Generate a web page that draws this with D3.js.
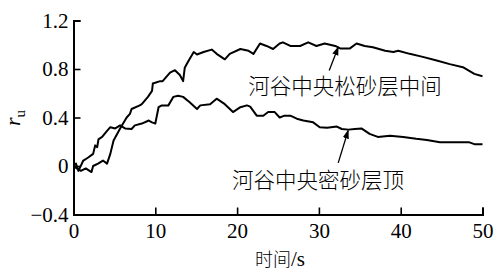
<!DOCTYPE html>
<html><head><meta charset="utf-8">
<script src="https://cdn.jsdelivr.net/npm/d3@7"></script>
<style>body{margin:0;background:#fff}svg{display:block}</style>
</head><body><svg id="c" width="497" height="272"></svg>
<script>
const xTicks = [0, 10, 20, 30, 40, 50];
const yTicks = [-0.4, 0, 0.4, 0.8, 1.2];
const yTickLabels = ["\u22120.4", "0", "0.4", "0.8", "1.2"];
const seriesNames = ["河谷中央松砂层中间", "河谷中央密砂层顶"];

const looseT = [0,0.4,0.9,1.5,2.2,2.4,3.0,3.6,4.1,4.5,4.9,5.7,6.5,6.9,7.1,8.1,8.35,9.1,9.6,9.7,10.6,10.9,11.8,12.4,13.0,13.4,13.6,14.0,14.7,15.1,15.9,16.9,17.5,18.5,19.1,20.4,21.4,22.0,22.8,23.6,24.4,25.2,25.6,26.5,27.7,28.7,29.7,30.7,32.0,32.6,33.8,34.6,35.6,36.6,38.1,39.1,39.7,41.1,42.7,44.4,46.0,47.6,49.0,50];
const looseV = [0,-0.02,-0.04,-0.02,-0.05,0,0.02,0.045,0.02,0.1,0.21,0.31,0.40,0.43,0.47,0.50,0.51,0.57,0.62,0.68,0.70,0.70,0.77,0.79,0.75,0.70,0.81,0.86,0.94,0.92,0.94,0.96,0.925,0.88,0.925,0.965,0.95,0.925,1.01,0.99,0.965,1.01,1.02,0.99,0.99,1.02,0.99,1.01,0.99,0.97,0.97,1.01,0.99,0.98,0.95,0.94,0.95,0.925,0.90,0.87,0.84,0.815,0.76,0.74];

const denseT = [0,0.3,0.6,1.2,1.8,2.4,2.65,2.9,3.05,3.5,4.1,4.5,5.1,5.7,6.3,7.1,7.5,8.35,9.2,9.6,10.0,10.4,10.8,11.6,12.2,12.8,13.4,14.2,15.1,15.5,16.7,17.5,18.5,19.5,20.4,21.2,21.6,22.4,23.2,23.8,24.6,25.2,25.8,26.5,27.3,28.1,29.3,30.1,31.0,32.2,32.8,33.6,34.4,35.2,36.2,37.2,38.7,40.3,41.9,43.2,44.8,48.4,49.0,50];
const denseV = [0,0.02,-0.04,0.045,0.07,0.10,0.17,0.155,0.22,0.24,0.29,0.32,0.31,0.335,0.31,0.305,0.335,0.35,0.375,0.36,0.35,0.485,0.50,0.50,0.57,0.58,0.57,0.525,0.47,0.50,0.51,0.555,0.51,0.445,0.485,0.50,0.49,0.415,0.415,0.445,0.445,0.40,0.415,0.415,0.39,0.375,0.36,0.32,0.315,0.325,0.305,0.30,0.305,0.31,0.265,0.24,0.25,0.24,0.225,0.215,0.195,0.195,0.18,0.18];

// annotation anchors in data units: [labelT, labelV, arrowFromT, arrowFromV, arrowToT, arrowToV]
const annotations = [
  [33.2, 0.672, 31.26, 0.787, 32.36, 0.98],
  [29.9, -0.103, 32.36, 0.026, 33.58, 0.293]
];

const svg = d3.select("#c");
const x = d3.scaleLinear().domain([0, 50]).range([73.5, 482.5]);
const y = d3.scaleLinear().domain([-0.4, 1.2]).range([214.5, 20.5]);

const serif = "Liberation Serif, Times New Roman, serif";
const cjk = "Noto Sans CJK SC, sans-serif";

const xAxis = svg.append("g").attr("transform", `translate(0,${y(-0.4)})`)
  .call(d3.axisBottom(x).tickValues(xTicks).tickSize(-7).tickPadding(9).tickFormat(d3.format("d")));
const yAxis = svg.append("g").attr("transform", `translate(${x(0)},0)`)
  .call(d3.axisLeft(y).tickValues(yTicks).tickSize(-7).tickPadding(5).tickFormat((d,i)=>yTickLabels[i]));
[xAxis, yAxis].forEach(g => {
  g.attr("font-family", serif).attr("font-size", 21);
  g.select(".domain").attr("stroke", "#000").attr("stroke-width", 2);
  g.selectAll(".tick line").attr("stroke", "#000").attr("stroke-width", 1.6);
  g.selectAll(".tick text").attr("fill", "#000").attr("font-family", serif).attr("font-size", 21);
});
yAxis.selectAll(".tick text").attr("x", -5);

const line = d3.line().x(d => x(d[0])).y(d => y(d[1]));
[[looseT, looseV], [denseT, denseV]].forEach(([t, v]) => {
  svg.append("path").datum(t.map((ti, i) => [ti, v[i]]))
    .attr("d", line).attr("fill", "none").attr("stroke", "#000")
    .attr("stroke-width", 2).attr("stroke-linejoin", "round");
});

svg.append("defs").append("marker").attr("id", "ah")
  .attr("viewBox", "0 0 10 10").attr("refX", 9).attr("refY", 5)
  .attr("markerWidth", 9).attr("markerHeight", 9).attr("markerUnits", "userSpaceOnUse")
  .attr("orient", "auto")
  .append("path").attr("d", "M0,1.5 L10,5 L0,8.5 Z").attr("fill", "#000");

annotations.forEach((a, i) => {
  svg.append("line").attr("x1", x(a[2])).attr("y1", y(a[3]))
    .attr("x2", x(a[4])).attr("y2", y(a[5]))
    .attr("stroke", "#000").attr("stroke-width", 1.3).attr("marker-end", "url(#ah)");
  svg.append("text").attr("x", x(a[0])).attr("y", y(a[1]))
    .attr("text-anchor", "middle").attr("dominant-baseline", "central")
    .attr("font-family", cjk).attr("font-size", 21.5).attr("font-weight", 300)
    .attr("fill", "#000").text(seriesNames[i]);
});

const xt = svg.append("text").attr("x", (x(0) + x(50)) / 2 + 2).attr("y", 266)
  .attr("text-anchor", "middle").attr("fill", "#000");
xt.append("tspan").attr("font-family", cjk).attr("font-size", 18).attr("font-weight", 300).text("时间");
xt.append("tspan").attr("font-family", serif).attr("font-size", 21).text("/s");

const yt = svg.append("text").attr("transform", "translate(20,118) rotate(-90)")
  .attr("text-anchor", "middle").attr("fill", "#000").attr("font-family", serif);
yt.append("tspan").attr("font-style", "italic").attr("font-size", 22).text("r");
yt.append("tspan").attr("dy", 5).attr("font-size", 15).text("u");
</script></body></html>
